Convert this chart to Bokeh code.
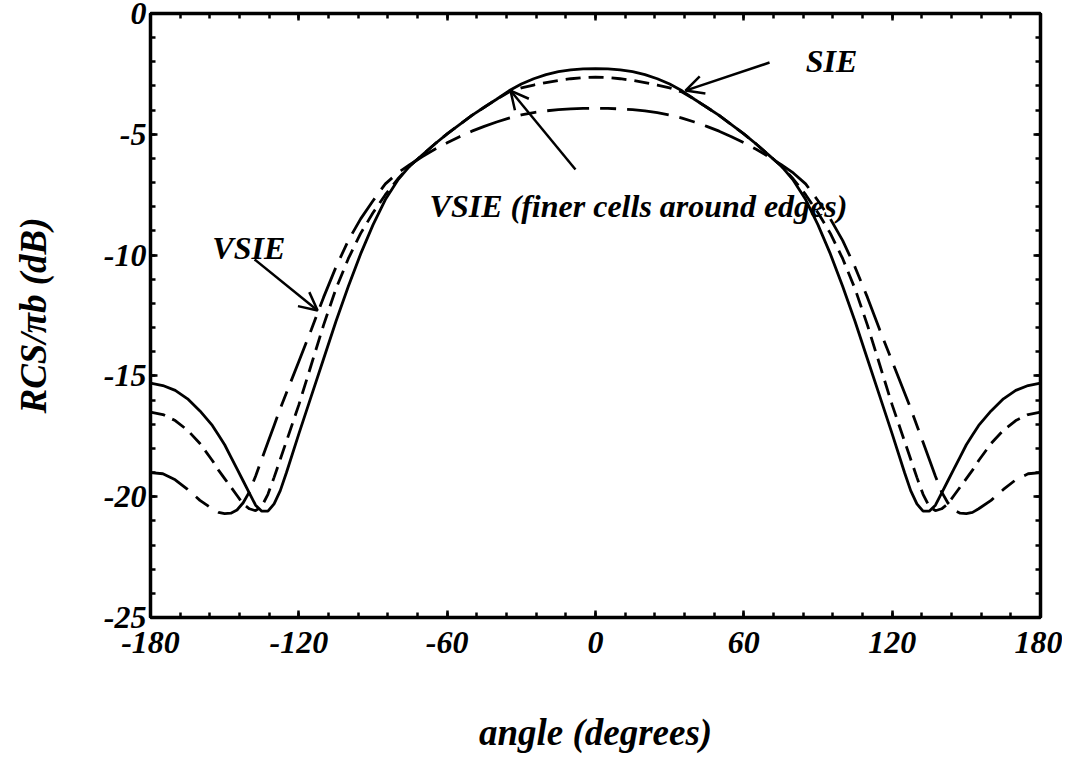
from bokeh.plotting import figure
from bokeh.models import (FixedTicker, LinearAxis, Range1d, Label, Arrow, OpenHead,
                          CustomJSTickFormatter)
from bokeh.embed import file_html
from bokeh.resources import INLINE

# ---- data ----
angle = [-180, -175, -170, -165, -160, -155, -152.5, -150, -147.5, -145, -142.5, -140,
         -137.5, -135, -132.5, -130, -127.5, -125,
         -120, -115, -110, -105, -100, -95, -90, -85, -80, -75, -70, -65,
         -60, -55, -50, -45, -40, -35, -30, -25, -20, -15, -10, -5,
         0, 5, 10, 15, 20, 25, 30, 35, 40, 45, 50, 55,
         60, 65, 70, 75, 80, 85, 90, 95, 100, 105, 110, 115, 120,
         125, 127.5, 130, 132.5, 135, 137.5, 140, 142.5, 145, 147.5, 150, 152.5,
         155, 160, 165, 170, 175, 180]

# solid curve (SIE)
sie = [-15.3, -15.4, -15.6, -15.95, -16.45, -17.05, -17.45, -17.85, -18.35, -18.85, -19.35, -19.85,
       -20.35, -20.6, -20.6, -20.3, -19.75, -19.0,
       -17.4, -15.85, -14.3, -12.75, -11.3, -9.95, -8.75, -7.7, -6.9, -6.3, -5.85, -5.4,
       -4.98, -4.6, -4.22, -3.88, -3.55, -3.2, -2.92, -2.7, -2.53, -2.41, -2.33, -2.29,
       -2.28, -2.29, -2.33, -2.41, -2.53, -2.7, -2.92, -3.2, -3.55, -3.88, -4.22, -4.6,
       -4.98, -5.4, -5.85, -6.3, -6.9, -7.7, -8.75, -9.95, -11.3, -12.75, -14.3, -15.85, -17.4,
       -19.0, -19.75, -20.3, -20.6, -20.6, -20.35, -19.85, -19.35, -18.85, -18.35, -17.85, -17.45,
       -17.05, -16.45, -15.95, -15.6, -15.4, -15.3]

# short-dash curve (VSIE, finer cells around edges)
vsie_fine = [-16.5, -16.6, -16.85, -17.25, -17.8, -18.5, -18.9, -19.25, -19.6, -19.95, -20.3, -20.5,
             -20.58, -20.4, -19.9, -19.2, -18.45, -17.7,
             -16.2, -14.55, -12.9, -11.4, -10.15, -9.1, -8.25, -7.5, -6.85, -6.3, -5.85, -5.4,
             -4.98, -4.6, -4.22, -3.88, -3.55, -3.25, -3.08, -2.96, -2.86, -2.77, -2.7, -2.65,
             -2.63, -2.65, -2.7, -2.77, -2.86, -2.96, -3.08, -3.25, -3.55, -3.88, -4.22, -4.6,
             -4.98, -5.4, -5.85, -6.3, -6.85, -7.5, -8.25, -9.1, -10.15, -11.4, -12.9, -14.55, -16.2,
             -17.7, -18.45, -19.2, -19.9, -20.4, -20.58, -20.5, -20.3, -19.95, -19.6, -19.25, -18.9,
             -18.5, -17.8, -17.25, -16.85, -16.6, -16.5]

# long-dash curve (VSIE)
vsie = [-19.0, -19.05, -19.3, -19.7, -20.15, -20.5, -20.65, -20.7, -20.68, -20.55, -20.25, -19.8,
        -19.15, -18.45, -17.75, -17.05, -16.35, -15.7,
        -14.4, -13.1, -11.75, -10.5, -9.4, -8.5, -7.75, -7.05, -6.6, -6.25, -5.92, -5.62,
        -5.35, -5.1, -4.87, -4.67, -4.49, -4.33, -4.2, -4.1, -4.03, -3.98, -3.95, -3.93,
        -3.92, -3.93, -3.95, -3.98, -4.03, -4.1, -4.2, -4.33, -4.49, -4.67, -4.87, -5.1,
        -5.35, -5.62, -5.92, -6.25, -6.6, -7.05, -7.75, -8.5, -9.4, -10.5, -11.75, -13.1, -14.4,
        -15.7, -16.35, -17.05, -17.75, -18.45, -19.15, -19.8, -20.25, -20.55, -20.68, -20.7, -20.65,
        -20.5, -20.15, -19.7, -19.3, -19.05, -19.0]

x_ticks = [-180, -120, -60, 0, 60, 120, 180]
x_minor = [-180, -168, -156, -144, -132, -120, -108, -96, -84, -72, -60, -48, -36, -24, -12,
           0, 12, 24, 36, 48, 60, 72, 84, 96, 108, 120, 132, 144, 156, 168, 180]
y_ticks = [-25, -20, -15, -10, -5, 0]
y_minor = [-25, -24, -23, -22, -21, -20, -19, -18, -17, -16, -15, -14, -13, -12, -11, -10,
           -9, -8, -7, -6, -5, -4, -3, -2, -1, 0]

FONT = "Liberation Serif"

p = figure(frame_width=890, frame_height=604,
           x_range=Range1d(-180, 180), y_range=Range1d(-25, 0),
           output_backend="svg", toolbar_location=None,
           min_border_left=150, min_border_right=22, min_border_top=13, min_border_bottom=150)

p.xgrid.visible = False
p.ygrid.visible = False
p.background_fill_color = "white"
p.border_fill_color = "white"
p.outline_line_color = "black"
p.outline_line_width = 3

xt = FixedTicker(ticks=x_ticks, minor_ticks=x_minor)
yt = FixedTicker(ticks=y_ticks, minor_ticks=y_minor)
plain = CustomJSTickFormatter(code="return String(tick);")


def style_axis(ax, labels=True):
    ax.axis_line_width = 3.5
    ax.axis_line_color = "black"
    ax.major_tick_in = 7
    ax.major_tick_out = 0
    ax.minor_tick_in = 5
    ax.minor_tick_out = 0
    ax.major_tick_line_width = 2.5
    ax.minor_tick_line_width = 2.5
    ax.major_tick_line_color = "black"
    ax.minor_tick_line_color = "black"
    ax.major_label_text_font = FONT
    ax.major_label_text_font_style = "bold italic"
    if labels:
        ax.major_label_text_font_size = "32px"
        ax.major_label_text_color = "black"
        ax.formatter = plain
    else:
        ax.major_label_text_font_size = "0px"
        ax.major_label_text_color = None
        ax.major_label_standoff = 0
    ax.axis_label_text_font = FONT
    ax.axis_label_text_font_style = "bold italic"
    ax.axis_label_text_font_size = "37px"
    ax.axis_label_text_color = "black"


p.xaxis.ticker = xt
p.yaxis.ticker = yt
style_axis(p.xaxis[0])
style_axis(p.yaxis[0])
p.xaxis.axis_label = "angle (degrees)"
p.yaxis.axis_label = "RCS/\u03c0b (dB)"
p.xaxis.major_label_standoff = 14
p.xaxis.axis_label_standoff = 56
p.yaxis.major_label_standoff = 4
p.yaxis.axis_label_standoff = 47

top_ax = LinearAxis(ticker=xt)
style_axis(top_ax, labels=False)
p.add_layout(top_ax, "above")
right_ax = LinearAxis(ticker=yt)
style_axis(right_ax, labels=False)
p.add_layout(right_ax, "right")

p.line(angle, sie, line_color="black", line_width=2.8)
p.line(angle, vsie_fine, line_color="black", line_width=2.8, line_dash="15 8")
p.line(angle, vsie, line_color="black", line_width=2.8, line_dash="42 11 16 11")

for txt, x, y, align in [("SIE", 95.5, -1.95, "center"),
                         ("VSIE", -155, -9.7, "left"),
                         ("VSIE (finer cells around edges)", -67.1, -7.95, "left")]:
    p.add_layout(Label(x=x, y=y, text=txt, text_font=FONT, text_font_style="bold italic",
                       text_font_size="32px", text_color="black",
                       text_align=align, text_baseline="middle"))

for xs, ys, xe, ye in [(70.4, -2.03, 36.4, -3.19),
                       (-137.9, -10.18, -112.4, -12.29),
                       (-8.1, -6.46, -34.4, -3.19)]:
    p.add_layout(Arrow(end=OpenHead(size=18, line_width=2.5, line_color="black"),
                       x_start=xs, y_start=ys, x_end=xe, y_end=ye,
                       line_width=2.5, line_color="black"))

open("out.html", "w").write(file_html(p, INLINE))
